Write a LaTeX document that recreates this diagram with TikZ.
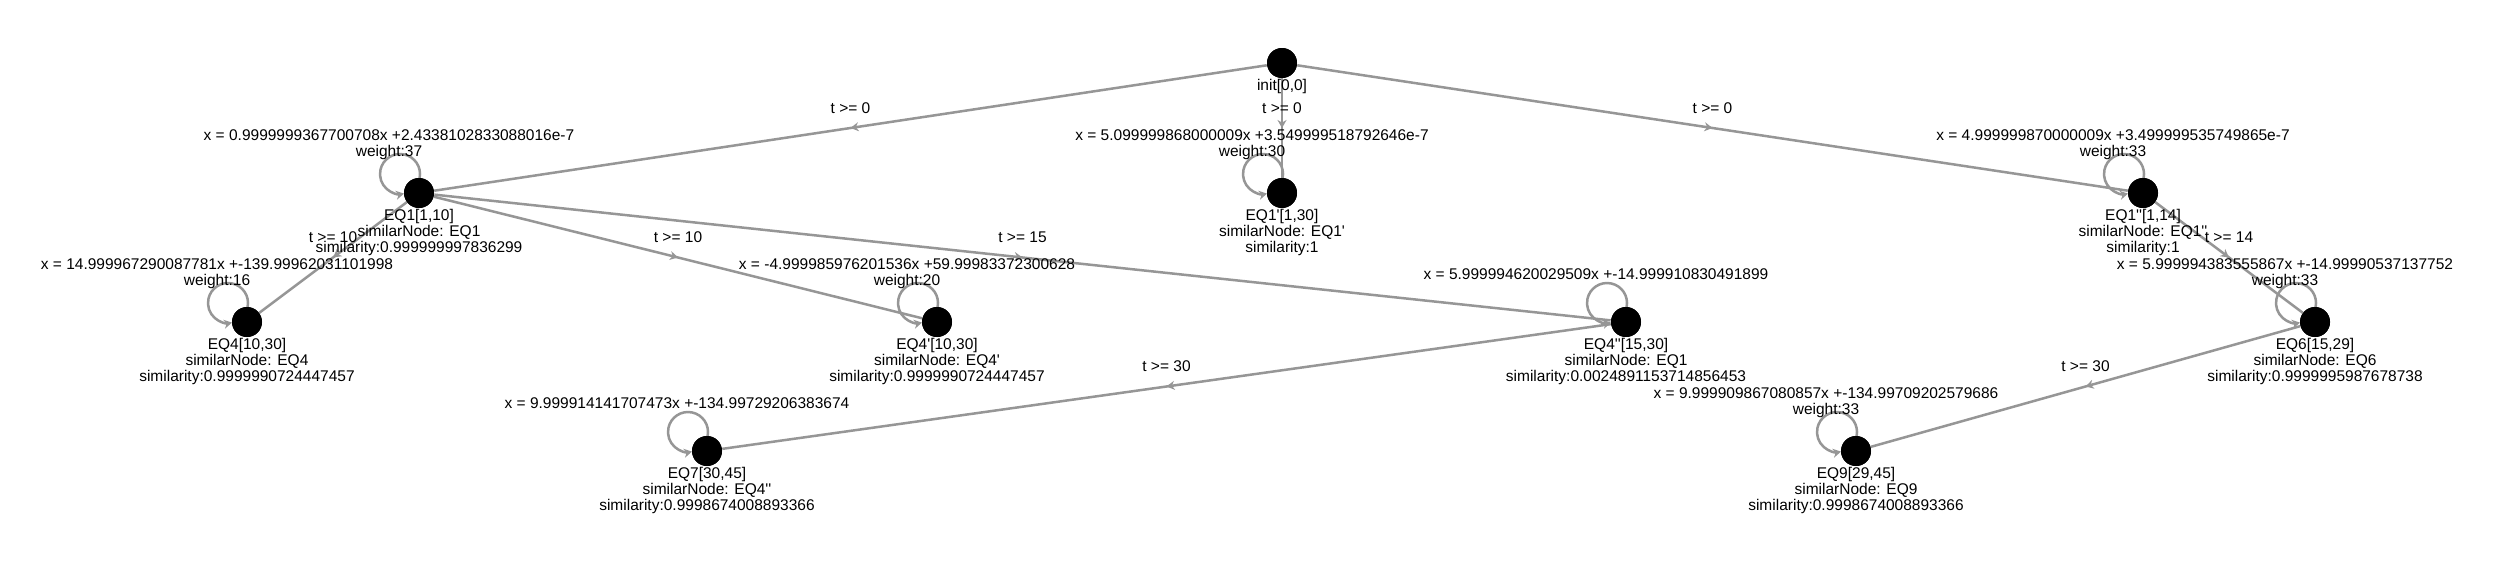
\documentclass[tikz,border=0pt]{standalone}
\usepackage{fontspec}
\setmainfont{Liberation Sans}
\usetikzlibrary{arrows.meta,decorations.markings,calc}
\definecolor{edgegray}{RGB}{150,150,150}
\newcommand{\qs}{\textquotesingle}
\begin{document}
\begin{tikzpicture}[x=0.5pt,y=0.5pt,
  vnode/.style={circle,fill=black,minimum size=15pt,inner sep=0pt},
  info/.style={font=\fontsize{7.75pt}{8.15pt}\selectfont,align=center,inner sep=0pt,text=black},
  edge/.style={draw,color=edgegray,line width=1.25pt,postaction={decorate},
    decoration={markings,mark=at position 0.5 with {\arrow{Stealth[length=4pt,width=4.5pt]}}}},
  elabel/.style={info,midway,yshift=10pt},
  selfloop/.style={draw,color=edgegray,line width=1.25pt,-{Stealth[length=4pt,width=4.5pt]}}
]
\fill[white] (0,0) rectangle (2500,-562);
\useasboundingbox (0,0) rectangle (2500,-562);

\node[vnode] (init) at (1282,-63) {};
\node[vnode] (eq1) at (419,-193) {};
\node[vnode] (eq1p) at (1282,-193) {};
\node[vnode] (eq1pp) at (2143,-193) {};
\node[vnode] (eq4) at (247,-322) {};
\node[vnode] (eq4p) at (937,-322) {};
\node[vnode] (eq4pp) at (1626,-322) {};
\node[vnode] (eq6) at (2315,-322) {};
\node[vnode] (eq7) at (707,-451) {};
\node[vnode] (eq9) at (1856,-451) {};

% edges
\path[edge] (init) -- node[elabel]{t >= 0} (eq1);
\path[edge] (init) -- node[elabel]{t >= 0} (eq1p);
\path[edge] (init) -- node[elabel]{t >= 0} (eq1pp);
\path[edge] (eq1) -- node[elabel]{t >= 10} (eq4);
\path[edge] (eq1) -- node[elabel]{t >= 10} (eq4p);
\path[edge] (eq1) -- node[elabel]{t >= 15} (eq4pp);
\path[edge] (eq4pp) -- node[elabel]{t >= 30} (eq7);
\path[edge] (eq1pp) -- node[elabel]{t >= 14} (eq6);
\path[edge] (eq6) -- node[elabel]{t >= 30} (eq9);

% self loops
\foreach \n in {eq1,eq1p,eq1pp,eq4,eq4p,eq4pp,eq6,eq7,eq9}{
  \draw[selfloop] ($(\n)+(0.6,15)$) arc[start angle=-11.5, end angle=281.5, radius=20];
}

% redraw nodes on top
\foreach \n in {init,eq1,eq1p,eq1pp,eq4,eq4p,eq4pp,eq6,eq7,eq9}{
  \fill[black] (\n) circle[radius=15];
}

% node labels
\node[info,anchor=north] (linit) at (init.south) {init[0,0]};
\node[info,anchor=north] (leq1) at (eq1.south) {EQ1[1,10]\\similarNode: EQ1\\similarity:0.999999997836299};
\node[info,anchor=north] (leq1p) at (eq1p.south) {EQ1\qs[1,30]\\similarNode: EQ1\qs\\similarity:1};
\node[info,anchor=north] (leq1pp) at (eq1pp.south) {EQ1\qs\qs[1,14]\\similarNode: EQ1\qs\qs\\similarity:1};
\node[info,anchor=north] (leq4) at (eq4.south) {EQ4[10,30]\\similarNode: EQ4\\similarity:0.9999990724447457};
\node[info,anchor=north] (leq4p) at (eq4p.south) {EQ4\qs[10,30]\\similarNode: EQ4\qs\\similarity:0.9999990724447457};
\node[info,anchor=north] (leq4pp) at (eq4pp.south) {EQ4\qs\qs[15,30]\\similarNode: EQ1\\similarity:0.0024891153714856453};
\node[info,anchor=north] (leq6) at (eq6.south) {EQ6[15,29]\\similarNode: EQ6\\similarity:0.9999995987678738};
\node[info,anchor=north] (leq7) at (eq7.south) {EQ7[30,45]\\similarNode: EQ4\qs\qs\\similarity:0.9998674008893366};
\node[info,anchor=north] (leq9) at (eq9.south) {EQ9[29,45]\\similarNode: EQ9\\similarity:0.9998674008893366};

% loop labels
\node[info] (qeq1) at ($(eq1)+(-30,48)$) {x = 0.9999999367700708x +2.4338102833088016e-7\\weight:37};
\node[info] (qeq1p) at ($(eq1p)+(-30,48)$) {x = 5.099999868000009x +3.549999518792646e-7\\weight:30};
\node[info] (qeq1pp) at ($(eq1pp)+(-30,48)$) {x = 4.999999870000009x +3.499999535749865e-7\\weight:33};
\node[info] (qeq4) at ($(eq4)+(-30,48)$) {x = 14.999967290087781x +-139.99962031101998\\weight:16};
\node[info] (qeq4p) at ($(eq4p)+(-30,48)$) {x = -4.999985976201536x +59.99983372300628\\weight:20};
\node[info] (qeq4pp) at ($(eq4pp)+(-30,48)$) {x = 5.999994620029509x +-14.999910830491899};
\node[info] (qeq6) at ($(eq6)+(-30,48)$) {x = 5.999994383555867x +-14.99990537137752\\weight:33};
\node[info] (qeq7) at ($(eq7)+(-30,48)$) {x = 9.999914141707473x +-134.99729206383674};
\node[info] (qeq9) at ($(eq9)+(-30,48)$) {x = 9.999909867080857x +-134.99709202579686\\weight:33};
\end{tikzpicture}
\end{document}
